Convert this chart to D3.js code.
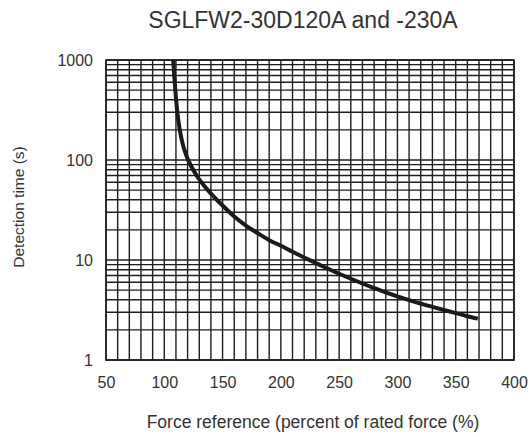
<!DOCTYPE html>
<html>
<head>
<meta charset="utf-8">
<script src="https://cdn.jsdelivr.net/npm/d3@7"></script>
<style>
html,body{margin:0;padding:0;background:#fff;}
svg{display:block;}
text{font-family:"Liberation Sans",Arial,sans-serif;fill:#333;}
</style>
</head>
<body>
<svg id="chart" width="530" height="437"></svg>
<script>
// ---- data ----
const forcePct   = [107.6, 108.5, 110, 112, 115, 119, 123, 128, 134, 140, 150, 160, 170, 180, 190, 200, 210, 220, 230, 240, 250, 260, 270, 280, 290, 300, 310, 320, 330, 340, 350, 360, 369];
const detectTime = [1000, 708, 417, 251, 158, 110, 87.1, 69.2, 55.6, 46.2, 35.1, 27.2, 22.1, 18.6, 15.8, 13.9, 12.1, 10.6, 9.33, 8.22, 7.28, 6.49, 5.82, 5.24, 4.74, 4.33, 3.97, 3.66, 3.40, 3.16, 2.94, 2.74, 2.59];
const xTickLabels = [50, 100, 150, 200, 250, 300, 350, 400];
const yTickLabels = [1, 10, 100, 1000];
const xGridValues = d3.range(50, 401, 10);
const titleText = "SGLFW2-30D120A and -230A";
const xTitle = "Force reference (percent of rated force (%)";
const yTitle = "Detection time (s)";

// ---- layout ----
const L = 106, R = 514, T = 60, B = 360;
const svg = d3.select("#chart");
svg.append("rect").attr("width",530).attr("height",437).attr("fill","#fff");

const x = d3.scaleLinear().domain([50, 400]).range([L, R]);
const y = d3.scaleLog().domain([1, 1000]).range([B, T]);

const gridColor = "#1e1e1e";
// horizontal grid (log minor lines)
svg.append("g").selectAll("line").data(y.ticks()).join("line")
  .attr("x1", L).attr("x2", R)
  .attr("y1", d => y(d)).attr("y2", d => y(d))
  .attr("stroke", gridColor).attr("stroke-width", 1.4);
// vertical grid
svg.append("g").selectAll("line").data(xGridValues).join("line")
  .attr("x1", d => x(d)).attr("x2", d => x(d))
  .attr("y1", T).attr("y2", B)
  .attr("stroke", gridColor).attr("stroke-width", 1.4);
// frame
svg.append("rect").attr("x", L).attr("y", T).attr("width", R - L).attr("height", B - T)
  .attr("fill", "none").attr("stroke", gridColor).attr("stroke-width", 1.6);

// axes labels via d3 axes
const xAxis = d3.axisBottom(x).tickValues(xTickLabels).tickSize(0).tickPadding(17).tickFormat(d3.format("d"));
const gx = svg.append("g").attr("transform", `translate(0,${B})`).call(xAxis);
gx.select(".domain").remove();
gx.selectAll("text").style("font-size","16px").style("font-family","Liberation Sans, Arial, sans-serif").attr("fill","#333");

const yAxis = d3.axisLeft(y).tickValues(yTickLabels).tickSize(0).tickPadding(13).tickFormat(d3.format("d"));
const gy = svg.append("g").attr("transform", `translate(${L},0)`).call(yAxis);
gy.select(".domain").remove();
gy.selectAll("text").style("font-size","16px").style("font-family","Liberation Sans, Arial, sans-serif").attr("fill","#333");

// curve
const line = d3.line().x(d => x(d[0])).y(d => y(d[1])).curve(d3.curveMonotoneX);
svg.append("path").datum(d3.zip(forcePct, detectTime))
  .attr("d", line).attr("fill", "none")
  .attr("stroke", "#1a1a1a").attr("stroke-width", 4).attr("stroke-linecap","butt");

// titles
svg.append("text").attr("x", 303).attr("y", 28).attr("text-anchor","middle")
  .style("font-size","23px").text(titleText);
svg.append("text").attr("x", 313).attr("y", 428).attr("text-anchor","middle")
  .style("font-size","17.5px").text(xTitle);
svg.append("text").attr("transform","translate(24,207) rotate(-90)").attr("text-anchor","middle")
  .style("font-size","15.5px").text(yTitle);
</script>
</body>
</html>
